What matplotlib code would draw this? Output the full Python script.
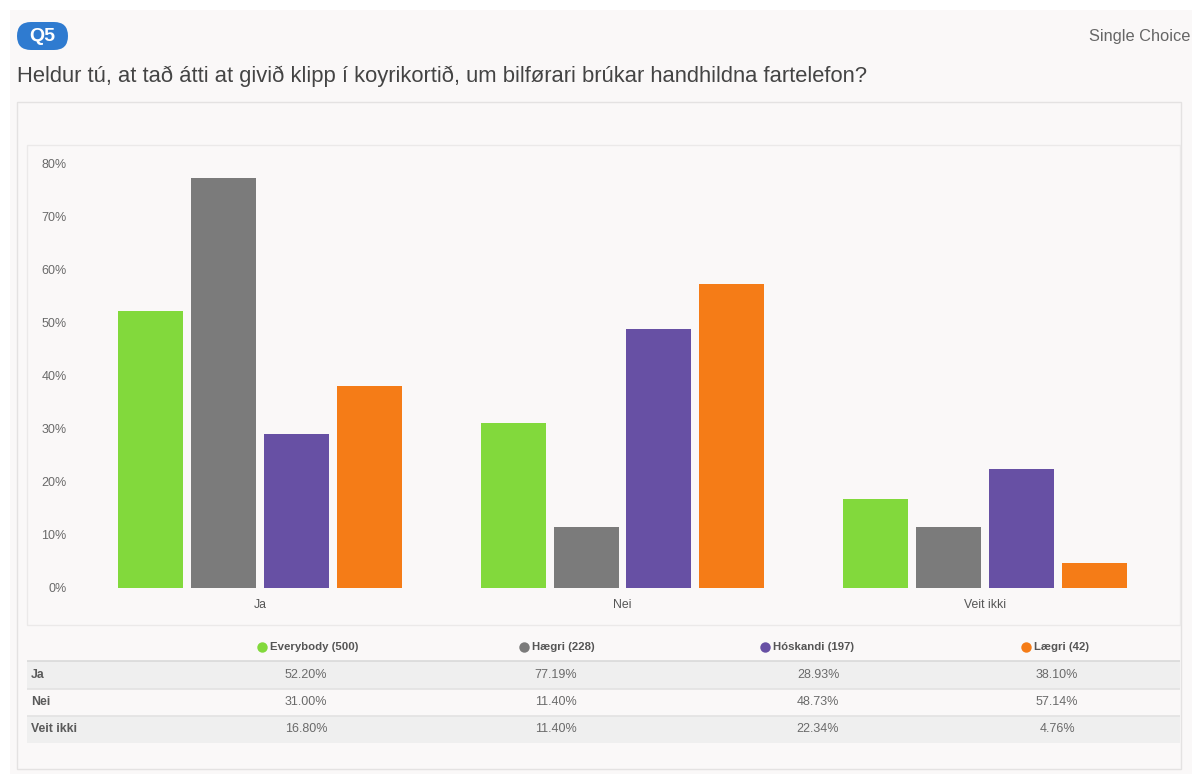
import numpy as np
import matplotlib.pyplot as plt
from matplotlib.patches import Rectangle, FancyBboxPatch

plt.rcParams['font.family'] = ['Liberation Sans', 'DejaVu Sans']

W, H = 1192, 774

categories = ["Ja", "Nei", "Veit ikki"]
series = ["Everybody (500)", "Hægri (228)", "Hóskandi (197)", "Lægri (42)"]
everybody = [52.20, 31.00, 16.80]
haegri = [77.19, 11.40, 11.40]
hoskandi = [28.93, 48.73, 22.34]
laegri = [38.10, 57.14, 4.76]
values = [everybody, haegri, hoskandi, laegri]
colors = ["#82d93c", "#7b7b7b", "#6750a4", "#f57c17"]
yticks = [0, 10, 20, 30, 40, 50, 60, 70, 80]

question = "Heldur tú, at tað átti at givið klipp í koyrikortið, um bilførari brúkar handhildna fartelefon?"


def box(x0, y0, x1, y1):
    # pixel box (top-left origin) -> figure fraction rect
    return [x0 / W, 1 - y1 / H, (x1 - x0) / W, (y1 - y0) / H]


fig = plt.figure(figsize=(W / 100, H / 100), dpi=100, facecolor="white")

# page panel
bg = fig.add_axes([0, 0, 1, 1], zorder=-10)
bg.set_xlim(0, W)
bg.set_ylim(H, 0)
bg.axis("off")
bg.add_patch(Rectangle((10, 10), W - 10, H - 10, facecolor="#faf8f8", edgecolor="none"))
bg.add_patch(Rectangle((17, 102), 1164, 667, facecolor="#faf8f8", edgecolor="#e4e2e2", lw=1))
bg.add_patch(Rectangle((27, 145), 1153, 480, facecolor="#faf8f8", edgecolor="#ebe9e9", lw=1))
bg.add_patch(FancyBboxPatch((17, 22), 51, 28, boxstyle="round,pad=0,rounding_size=14",
                            facecolor="#2f7bd0", edgecolor="none"))
bg.text(42.5, 36.5, "Q5", color="white", fontsize=14, fontweight="bold", ha="center", va="center")
bg.text(1190, 36, "Single Choice", color="#666666", fontsize=11.8, ha="right", va="center")
bg.text(17, 76, question, color="#444444", fontsize=15.8, ha="left", va="center")

# bar chart
ax = fig.add_axes(box(79, 163, 1166, 588))
ax.set_facecolor("none")
x = np.arange(len(categories))
step = 0.201
width = 0.179
for i, (name, vals) in enumerate(zip(series, values)):
    ax.bar(x + (i - 1.5) * step, vals, width, color=colors[i])
ax.set_xlim(-0.5, 2.5)
ax.set_ylim(0, 80)
ax.set_yticks(yticks)
ax.set_yticklabels([f"{v}%" for v in yticks])
ax.set_xticks(x)
ax.set_xticklabels(categories)
ax.tick_params(axis="y", length=0, pad=9, labelsize=9, labelcolor="#6a6a6a")
ax.tick_params(axis="x", length=0, pad=8, labelsize=8.8, labelcolor="#555555")
for s in ax.spines.values():
    s.set_visible(False)

# table below
tab = fig.add_axes(box(27, 630, 1180, 745))
tab.set_xlim(27, 1180)
tab.set_ylim(745, 630)
tab.axis("off")
col_x = [306, 556, 818, 1057]
dot_x = [262, 524, 765, 1026]
row_y = [675, 702, 729]
tab.axhspan(661, 689, color="#efefef", lw=0)
tab.axhspan(716, 743, color="#efefef", lw=0)
for yy, c in [(661, "#d9d9d9"), (689, "#e2e2e2"), (716, "#e2e2e2")]:
    tab.axhline(yy, color=c, lw=1.2)
for i, name in enumerate(series):
    tab.plot(dot_x[i], 647, "o", ms=7.5, color=colors[i], mec="none")
    tab.text(dot_x[i] + 8, 647, name, fontsize=8.2, fontweight="bold", color="#555555",
             ha="left", va="center")
for r, cat in enumerate(categories):
    tab.text(31, row_y[r], cat, fontsize=8.8, fontweight="bold", color="#5a5a5a", ha="left", va="center")
    for i in range(len(series)):
        tab.text(col_x[i], row_y[r], f"{values[i][r]:.2f}%", fontsize=9, color="#6a6a6a",
                 ha="center", va="center")

fig.savefig("out.png", dpi=100, facecolor=fig.get_facecolor())
